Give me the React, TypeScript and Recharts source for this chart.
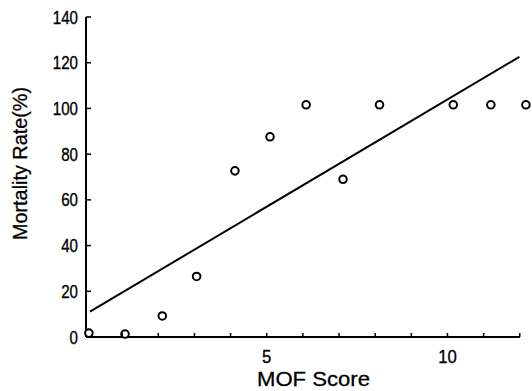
import React from 'react';
import { ScatterChart, Scatter, XAxis, YAxis, ReferenceLine, Label } from 'recharts';

const mofScores = [0.08, 1.08, 2.11, 3.06, 4.12, 5.09, 6.09, 7.11, 8.12, 10.16, 11.2, 12.17];
const mortalityRates = [1.7, 1.3, 9.2, 26.5, 72.7, 87.6, 101.6, 69, 101.6, 101.6, 101.6, 101.6];
const fitX = [0.11, 11.99];
const fitY = [11.1, 122.6];
const xTicks = [1, 2, 3, 4, 5, 6, 7, 8, 9, 10, 11, 12];
const xTickLabels: Record<number, string> = { 5: '5', 10: '10' };
const yTicks = [0, 20, 40, 60, 80, 100, 120, 140];
const xAxisSpan = [0, 12];
const xTitle = 'MOF Score';
const yTitle = 'Mortality Rate(%)';

const points = mofScores.map((x, i) => ({ x, y: mortalityRates[i] }));
const fit = fitX.map((x, i) => ({ x, y: fitY[i] }));

const FONT = '"Liberation Sans", Arial, Helvetica, sans-serif';

const XTick = (props: any) => {
  const { x, y, payload } = props;
  const lbl = xTickLabels[payload.value];
  return (
    <g>
      <line x1={x} y1={y} x2={x} y2={y - 4} stroke="#000" strokeWidth={1.5} />
      {lbl ? (
        <text
          transform={`translate(${x},${y + 26}) scale(0.93,1)`}
          textAnchor="middle"
          fontSize={18}
          fontFamily={FONT}
          fill="#000"
          stroke="#000"
          strokeWidth={0.35}
        >
          {lbl}
        </text>
      ) : null}
    </g>
  );
};

const YTick = (props: any) => {
  const { x, y, payload } = props;
  return (
    <g>
      <line x1={x} y1={y} x2={x + 5} y2={y} stroke="#000" strokeWidth={1.5} />
      <text
        transform={`translate(${x - 8},${y + 6.5}) scale(0.84,1)`}
        textAnchor="end"
        fontSize={18}
        fontFamily={FONT}
        fill="#000"
        stroke="#000"
        strokeWidth={0.35}
      >
        {payload.value}
      </text>
    </g>
  );
};

const OpenCircle = (props: any) => {
  const { cx, cy } = props;
  return <circle cx={cx} cy={cy} r={3.8} fill="#fff" stroke="#000" strokeWidth={2} />;
};

const Empty = () => <g />;

export default function App() {
  return (
    <div style={{ position: 'absolute', left: 0, top: 0, width: 532, height: 391, background: '#fff' }}>
      <ScatterChart width={532} height={391} margin={{ top: 17, right: 5, bottom: 0, left: 0 }}>
        <XAxis
          type="number"
          dataKey="x"
          domain={[0, 12.2]}
          ticks={xTicks}
          interval={0}
          axisLine={false}
          tickLine={false}
          tickSize={0}
          tickMargin={0}
          height={54}
          tick={<XTick />}
        >
          <Label
            content={(p: any) => (
              <text
                x={313.5}
                y={386}
                textAnchor="middle"
                fontSize={21}
                fontFamily={FONT}
                textLength={113}
                lengthAdjust="spacingAndGlyphs"
                fill="#000"
                stroke="#000"
                strokeWidth={0.3}
              >
                {xTitle}
              </text>
            )}
          />
        </XAxis>
        <YAxis
          type="number"
          dataKey="y"
          domain={[0, 140]}
          ticks={yTicks}
          interval={0}
          axisLine={{ stroke: '#000', strokeWidth: 2 }}
          tickLine={false}
          tickSize={0}
          tickMargin={0}
          width={86}
          tick={<YTick />}
        >
          <Label
            content={(p: any) => (
              <text
                transform="translate(27,163.5) rotate(-90)"
                textAnchor="middle"
                fontSize={21}
                fontFamily={FONT}
                textLength={153}
                lengthAdjust="spacingAndGlyphs"
                fill="#000"
                stroke="#000"
                strokeWidth={0.3}
              >
                {yTitle}
              </text>
            )}
          />
        </YAxis>
        <ReferenceLine
          segment={[
            { x: xAxisSpan[0], y: 0 },
            { x: xAxisSpan[1], y: 0 },
          ]}
          stroke="#000"
          strokeWidth={2}
          ifOverflow="visible"
        />
        <Scatter
          data={fit}
          line={{ stroke: '#000', strokeWidth: 2 }}
          shape={<Empty />}
          isAnimationActive={false}
        />
        <Scatter data={points} shape={<OpenCircle />} isAnimationActive={false} />
      </ScatterChart>
    </div>
  );
}
